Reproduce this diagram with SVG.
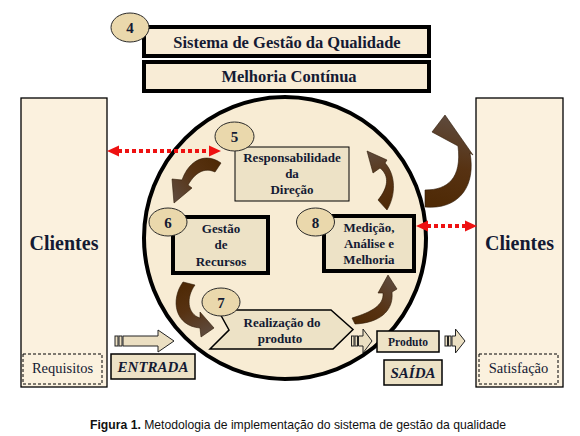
<svg xmlns="http://www.w3.org/2000/svg" width="580" height="436" viewBox="0 0 580 436">
<style>
.t{font-family:"Liberation Serif","Times New Roman",serif;font-weight:bold;fill:#141a33;text-anchor:middle}
.r{font-family:"Liberation Serif","Times New Roman",serif;font-weight:normal;fill:#141a33;text-anchor:middle;font-size:14.5px}
.n{font-size:13px}
.num{font-size:15px}
.title{fill:#f8ecd6;stroke:#000;stroke-width:4}
.node{fill:#ede2c6;stroke:#000}
.ell{fill:#ead8ac;stroke:#2a2a2a;stroke-width:1}
.cli{fill:#fbf1de;stroke:#000;stroke-width:1.3}
.dash{fill:none;stroke:#000;stroke-width:1;stroke-dasharray:3 2}
.blk{fill:#ebdfc2;stroke:#222;stroke-width:1}
.red{stroke:#ee1111;stroke-width:4;stroke-dasharray:4 3;fill:none}
.rh{fill:#ee1111}
.brn{stroke:#2e1a06;stroke-width:0.6}
</style>
<defs>
<linearGradient id="g1" gradientUnits="userSpaceOnUse" x1="220" y1="165" x2="175" y2="200"><stop offset="0" stop-color="#4f2a06"/><stop offset="0.45" stop-color="#573212"/><stop offset="1" stop-color="#5e4a3c"/></linearGradient>
<linearGradient id="g2" gradientUnits="userSpaceOnUse" x1="190" y1="283" x2="213" y2="330"><stop offset="0" stop-color="#4f2a06"/><stop offset="0.45" stop-color="#573212"/><stop offset="1" stop-color="#5e4a3c"/></linearGradient>
<linearGradient id="g3" gradientUnits="userSpaceOnUse" x1="352" y1="320" x2="388" y2="276"><stop offset="0" stop-color="#4f2a06"/><stop offset="0.45" stop-color="#573212"/><stop offset="1" stop-color="#5e4a3c"/></linearGradient>
<linearGradient id="g4" gradientUnits="userSpaceOnUse" x1="385" y1="208" x2="368" y2="152"><stop offset="0" stop-color="#4f2a06"/><stop offset="0.45" stop-color="#573212"/><stop offset="1" stop-color="#5e4a3c"/></linearGradient>
<linearGradient id="g5" gradientUnits="userSpaceOnUse" x1="425" y1="200" x2="445" y2="116"><stop offset="0" stop-color="#4f2a06"/><stop offset="0.45" stop-color="#573212"/><stop offset="1" stop-color="#5e4a3c"/></linearGradient>
</defs>
<rect width="580" height="436" fill="#fff"/>

<g id="sistema">
<rect class="title" x="144" y="27" width="285" height="29"/>
<ellipse class="ell" cx="130" cy="27.5" rx="19" ry="14.5"/>
<text class="t num" x="130" y="33">4</text>
<text class="t" x="287" y="48" font-size="16.5">Sistema de Gestão da Qualidade</text>
</g>
<g id="melhoria">
<rect class="title" x="144" y="62" width="285" height="29"/>
<text class="t" x="289" y="82" font-size="16.5">Melhoria Contínua</text>
</g>

<g id="clientes-esq">
<rect class="cli" x="21" y="98" width="86" height="289"/>
<text class="t" x="64" y="250" font-size="20">Clientes</text>
<rect class="dash" x="23" y="354" width="79" height="30"/>
<text class="r" x="62.5" y="373">Requisitos</text>
</g>
<g id="clientes-dir">
<rect class="cli" x="476" y="98" width="87" height="289"/>
<text class="t" x="519.5" y="250" font-size="20">Clientes</text>
<rect class="dash" x="479" y="354" width="79" height="30"/>
<text class="r" x="518.5" y="373">Satisfação</text>
</g>

<g id="ciclo">
<circle cx="285" cy="238" r="141" fill="#f8ecd4" stroke="#000" stroke-width="4"/>
</g>

<g id="n5">
<rect class="node" x="235" y="147" width="114" height="54" stroke-width="1"/>
<ellipse class="ell" cx="234.5" cy="136.5" rx="19.5" ry="14.5"/>
<text class="t num" x="234.5" y="142">5</text>
<text class="t n" x="292" y="162">Responsabilidade</text>
<text class="t n" x="292" y="178">da</text>
<text class="t n" x="292" y="194">Direção</text>
</g>
<g id="n6">
<rect class="node" x="173" y="217" width="95" height="56" stroke-width="4"/>
<ellipse class="ell" cx="168" cy="222" rx="19" ry="14"/>
<text class="t num" x="168" y="227.5">6</text>
<text class="t n" x="221" y="233">Gestão</text>
<text class="t n" x="221" y="249">de</text>
<text class="t n" x="221" y="266">Recursos</text>
</g>
<g id="n8">
<rect class="node" x="324" y="216" width="90" height="55" stroke-width="4"/>
<ellipse class="ell" cx="315.5" cy="222" rx="19" ry="14"/>
<text class="t num" x="315.5" y="227.5">8</text>
<text class="t n" x="369" y="232">Medição,</text>
<text class="t n" x="369" y="248">Análise e</text>
<text class="t n" x="369" y="264">Melhoria</text>
</g>
<g id="n7">
<polygon class="node" points="218,310 331,310 353,329.5 333,349 210,349 229,330" stroke-width="1.5"/>
<ellipse class="ell" cx="221" cy="302" rx="19" ry="14"/>
<text class="t num" x="221" y="307.5">7</text>
<text class="t n" x="282" y="327">Realização do</text>
<text class="t n" x="280" y="343">produto</text>
</g>
<g id="produto">
<rect class="node" x="377" y="331" width="62" height="21" stroke-width="1.5"/>
<text class="t" x="408" y="346" font-size="11.5">Produto</text>
</g>
<g id="saida">
<rect class="node" x="384" y="360" width="58" height="25" stroke-width="1.5"/>
<text class="t" x="413" y="377.5" font-size="15" font-style="italic">SAÍDA</text>
</g>
<g id="entrada">
<rect class="node" x="111" y="354" width="84" height="25" stroke-width="1.5"/>
<text class="t" x="153" y="372" font-size="15" font-style="italic">ENTRADA</text>
</g>

<g id="conectores">
<g id="setas-bloco">
<rect class="blk" x="115" y="336" width="3" height="10"/>
<rect class="blk" x="119" y="336" width="3" height="10"/>
<polygon class="blk" points="123,336 158,336 158,330 174,341 158,352 158,346 123,346"/>
<rect class="blk" x="351.5" y="336" width="2.5" height="10"/>
<rect class="blk" x="355" y="336" width="2.5" height="10"/>
<polygon class="blk" points="358.5,336 363,336 363,329 372,341 363,353 363,346 358.5,346"/>
<rect class="blk" x="445" y="336" width="2.5" height="10"/>
<rect class="blk" x="448.5" y="336" width="2.5" height="10"/>
<polygon class="blk" points="452,336 455.5,336 455.5,329 465,341 455.5,353 455.5,346 452,346"/>
</g>
<g id="setas-vermelhas">
<line class="red" x1="118" y1="151" x2="209" y2="151"/>
<polygon class="rh" points="107,151 119,145.5 119,156.5"/>
<polygon class="rh" points="221,151 209,145.5 209,156.5"/>
<line class="red" x1="427" y1="226" x2="465" y2="226"/>
<polygon class="rh" points="416,226 428,220.5 428,231.5"/>
<polygon class="rh" points="477,226 465,220.5 465,231.5"/>
</g>
<g id="setas-curvas">
<path class="brn" fill="url(#g1)" d="M221,163 C207,153 190,158 182,180 L172,179 L174,203 L192,188 L188,185 C195,173 204,167 215,172 Z"/>
<path class="brn" fill="url(#g2)" d="M183,282 C170,300 175,326 200,328 L201,337 L214,328 L200,312 L200,318 C187,314 186,297 195,285 Z"/>
<path class="brn" fill="url(#g3)" d="M352,318 C372,312 384,305 383,293 L378,293 L388,275 L397,289 L392,292 C394,312 378,323 355,324 Z"/>
<path class="brn" fill="url(#g4)" d="M378,200 C388,188 390,176 380,168 L373,173 L367,151 L387,160 L385,163 C396,175 396,195 387,210 Z"/>
<path class="brn" fill="url(#g5)" d="M425,190 C448,190 462,178 458,146 L432,132 L445,115 L473,155 L470,153 C476,185 460,210 425,207 Z"/>
</g>
</g>

<g id="legenda">
<text x="90" y="429" font-family="Liberation Sans, Arial, sans-serif" font-size="12.2" fill="#111"><tspan font-weight="bold">Figura 1.</tspan> Metodologia de implementação do sistema de gestão da qualidade</text>
</g>
</svg>
